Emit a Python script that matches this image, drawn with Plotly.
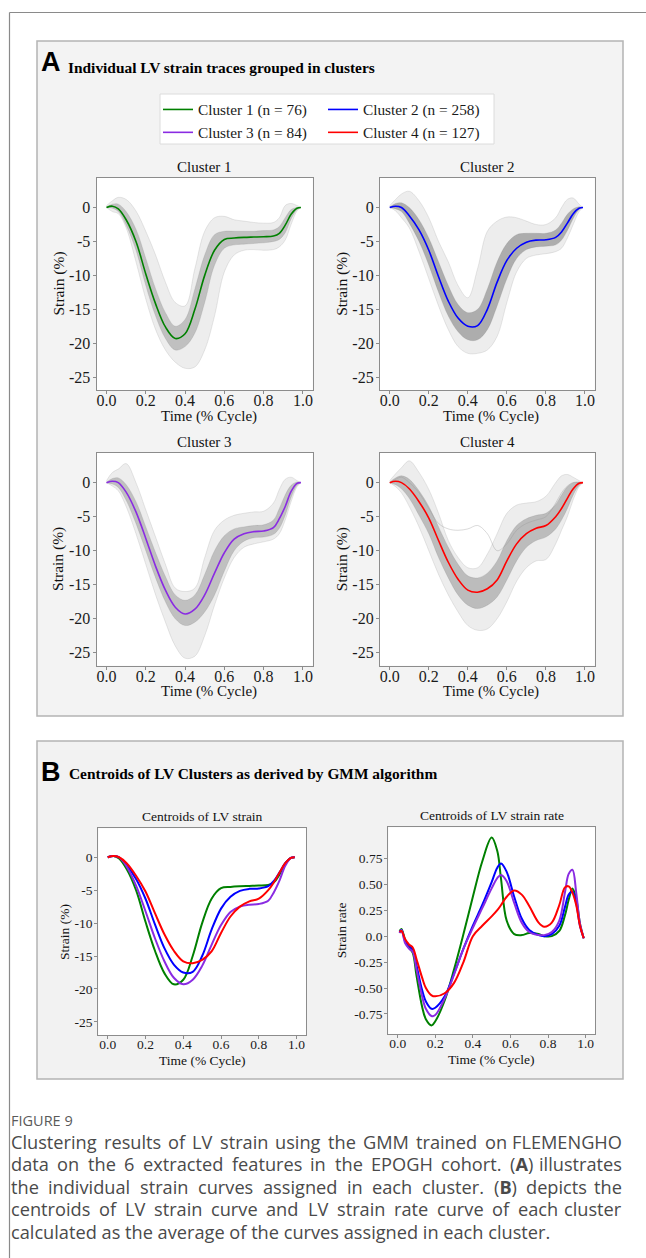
import re
import plotly.graph_objects as go

W, H = 646, 1258

# ---------------- data ----------------
time = [0, 0.03, 0.06, 0.1, 0.15, 0.2, 0.25, 0.3, 0.35, 0.4, 0.45, 0.5, 0.55,
        0.6, 0.65, 0.7, 0.75, 0.8, 0.85, 0.88, 0.91, 0.94, 0.97, 0.99]

cluster_names = ["Cluster 1 (n = 76)", "Cluster 2 (n = 258)", "Cluster 3 (n = 84)", "Cluster 4 (n = 127)"]
panel_titles = ["Cluster 1", "Cluster 2", "Cluster 3", "Cluster 4"]

# centroid strain curves (%)
c1_centroid = [0, 0.2, -0.2, -1.8, -5.0, -9.8, -14.2, -17.6, -19.3, -18.6, -15.0, -10.0, -6.3,
               -4.7, -4.5, -4.4, -4.35, -4.3, -4.2, -3.8, -2.6, -1.0, -0.1, 0]
c2_centroid = [0, 0.2, 0.0, -1.2, -3.3, -6.3, -10.2, -13.8, -16.3, -17.5, -17.4, -15.0, -11.0,
               -7.8, -6.0, -5.1, -4.8, -4.75, -4.4, -3.6, -2.3, -0.9, -0.1, 0]
c3_centroid = [0, 0.2, 0.0, -1.4, -4.3, -8.2, -12.3, -15.8, -18.3, -19.3, -18.6, -16.5, -13.3,
               -10.3, -8.3, -7.5, -7.2, -7.1, -6.6, -5.3, -3.5, -1.3, -0.1, 0]
c4_centroid = [0, 0.2, 0.0, -0.9, -2.8, -5.2, -8.5, -11.7, -14.2, -15.8, -16.1, -15.6, -14.3,
               -11.5, -9.0, -7.5, -6.7, -6.3, -5.0, -3.8, -2.3, -0.9, -0.1, 0]

# spread of the individual traces: outer (all traces) and inner (dense core) bounds
c1_outer_low = [0, -0.6, -0.9, -3.0, -8.0, -13.5, -18.0, -21.0, -22.8, -23.7, -23.5, -21.0, -16.0,
                -9.5, -7.0, -6.3, -6.2, -6.3, -6.2, -5.8, -4.8, -2.5, -0.5, 0]
c1_outer_high = [0.3, 1.0, 1.5, 1.2, -0.5, -3.5, -7.0, -11.0, -14.0, -14.5, -9.0, -3.5, -1.5,
                 -1.3, -1.8, -2.0, -2.2, -2.3, -2.2, -1.5, 0.3, 0.6, 0.3, 0]
c1_inner_low = [0, -0.1, -0.6, -2.6, -6.3, -11.5, -16.0, -19.3, -21.0, -20.5, -18.5, -14.0, -8.5,
                -6.0, -5.5, -5.4, -5.3, -5.2, -5.0, -4.7, -3.7, -1.7, -0.3, 0]
c1_inner_high = [0.1, 0.5, 0.5, -0.6, -3.2, -7.5, -12.0, -15.5, -17.5, -16.5, -12.0, -7.0, -4.0,
                 -3.5, -3.5, -3.5, -3.5, -3.4, -3.3, -2.8, -1.5, -0.3, 0, 0]

c2_outer_low = [0, -0.5, -1.5, -3.0, -6.5, -10.5, -14.5, -18.0, -20.5, -21.5, -21.5, -21.0, -19.0,
                -14.0, -9.5, -7.5, -7.0, -6.8, -6.5, -6.0, -4.5, -2.5, -0.6, 0]
c2_outer_high = [0.3, 1.2, 2.0, 2.4, 1.0, -1.5, -5.0, -8.0, -11.5, -13.3, -9.0, -3.5, -2.0,
                 -1.4, -1.5, -2.0, -2.5, -2.5, -1.5, 0.0, 1.2, 1.4, 0.5, 0]
c2_inner_low = [0, -0.2, -0.6, -2.3, -5.0, -8.5, -12.5, -16.0, -18.3, -19.5, -19.5, -18.0, -14.5,
                -10.5, -7.5, -6.2, -5.8, -5.7, -5.5, -4.8, -3.4, -1.6, -0.3, 0]
c2_inner_high = [0.1, 0.6, 0.7, 0.0, -1.8, -4.5, -8.0, -11.5, -14.3, -15.5, -15.0, -12.0, -8.0,
                 -5.3, -4.0, -3.8, -3.8, -3.8, -3.3, -2.3, -1.0, -0.2, 0.1, 0]

c3_outer_low = [0, -0.5, -1.2, -3.5, -7.5, -12.0, -16.5, -20.5, -24.0, -25.8, -25.5, -22.5, -18.0,
                -14.0, -11.0, -9.5, -9.0, -8.7, -8.3, -7.5, -5.5, -2.8, -0.6, 0]
c3_outer_high = [0.3, 1.5, 2.0, 2.8, 0.0, -4.0, -8.0, -12.0, -15.5, -16.0, -15.5, -11.0, -7.0,
                 -5.5, -4.8, -4.5, -4.3, -4.2, -3.0, -1.0, 0.5, 0.8, 0.3, 0]
c3_inner_low = [0, -0.2, -0.7, -2.6, -6.0, -10.0, -14.0, -17.5, -20.0, -21.0, -20.5, -19.0, -16.5,
                -13.0, -10.0, -8.6, -8.1, -8.0, -7.6, -6.7, -4.8, -2.2, -0.4, 0]
c3_inner_high = [0.1, 0.6, 0.7, -0.3, -2.8, -6.5, -10.3, -13.8, -16.5, -17.3, -16.5, -13.5, -10.0,
                 -7.8, -6.8, -6.5, -6.3, -6.2, -5.5, -3.8, -1.8, -0.4, 0.1, 0]

c4_outer_low = [0, -0.6, -1.5, -3.5, -6.5, -10.0, -13.5, -16.5, -19.0, -21.0, -21.7, -21.5, -20.0,
                -17.5, -14.5, -12.5, -11.5, -11.3, -9.0, -7.0, -5.0, -2.5, -0.6, 0]
c4_outer_high = [0.3, 1.3, 2.2, 3.2, 1.5, -1.0, -4.5, -8.5, -11.0, -12.5, -12.5, -10.5, -7.5,
                 -4.5, -3.3, -3.0, -2.8, -2.0, 0.0, 1.0, 1.2, 0.8, 0.3, 0]
c4_inner_low = [0, -0.3, -0.9, -2.3, -4.8, -7.5, -11.0, -14.0, -16.5, -18.0, -18.5, -18.0, -16.8,
                -14.3, -11.5, -9.5, -8.5, -8.0, -6.8, -5.5, -3.8, -1.8, -0.4, 0]
c4_inner_high = [0.1, 0.7, 1.0, 0.5, -1.2, -3.5, -6.5, -9.5, -12.0, -13.7, -14.0, -13.3, -11.5,
                 -8.5, -6.3, -5.3, -4.8, -4.5, -3.2, -1.8, -0.6, 0.0, 0.1, 0]
c4_outlier = [0, 0.5, 0.8, 0.0, -1.5, -3.8, -6.0, -6.8, -7.0, -6.8, -6.3, -7.5, -10.0,
              -9.0, -7.0, -6.0, -5.5, -5.0, -3.0, -1.5, -0.5, 0.0, 0.0, 0]

# centroid strain-rate curves
sr_time = [0.01, 0.02, 0.04, 0.06, 0.08, 0.1, 0.13, 0.15, 0.18, 0.2, 0.25, 0.3, 0.35, 0.4, 0.45,
           0.5, 0.53, 0.55, 0.58, 0.62, 0.66, 0.7, 0.75, 0.78, 0.82, 0.86, 0.89, 0.91, 0.93,
           0.95, 0.97, 0.99]
c1_rate = [0.05, 0.07, -0.04, -0.11, -0.16, -0.38, -0.68, -0.80, -0.86, -0.82, -0.62, -0.32, 0.02,
           0.38, 0.72, 0.95, 0.82, 0.55, 0.15, 0.02, 0.01, 0.03, 0.02, 0.0, 0.0, 0.05, 0.2, 0.35,
           0.46, 0.36, 0.12, -0.02]
c2_rate = [0.04, 0.06, -0.05, -0.09, -0.13, -0.28, -0.52, -0.63, -0.70, -0.69, -0.58, -0.36, -0.12,
           0.10, 0.30, 0.52, 0.66, 0.70, 0.62, 0.38, 0.17, 0.06, 0.01, 0.0, 0.02, 0.1, 0.28, 0.40,
           0.43, 0.32, 0.1, -0.02]
c3_rate = [0.03, 0.06, -0.07, -0.12, -0.15, -0.32, -0.58, -0.70, -0.77, -0.76, -0.60, -0.37, -0.12,
           0.08, 0.27, 0.46, 0.56, 0.59, 0.53, 0.32, 0.13, 0.04, 0.01, 0.01, 0.04, 0.15, 0.42, 0.60,
           0.64, 0.42, 0.12, -0.02]
c4_rate = [0.04, 0.05, -0.03, -0.08, -0.11, -0.22, -0.40, -0.50, -0.57, -0.58, -0.55, -0.45, -0.25,
           0.0, 0.10, 0.19, 0.25, 0.30, 0.38, 0.44, 0.40, 0.29, 0.13, 0.09, 0.13, 0.30, 0.47, 0.48,
           0.42, 0.30, 0.10, -0.02]

x_tickvals = [0, 0.2, 0.4, 0.6, 0.8, 1.0]
x_ticktext = ["0.0", "0.2", "0.4", "0.6", "0.8", "1.0"]
strain_tickvals = [0, -5, -10, -15, -20, -25]
strain_ticktext = ["0", "-5", "-10", "-15", "-20", "-25"]
rate_tickvals = [0.75, 0.5, 0.25, 0, -0.25, -0.5, -0.75]
rate_ticktext = ["0.75", "0.50", "0.25", "0.0", "-0.25", "-0.50", "-0.75"]

caption_head = "FIGURE 9"
caption_lines = [
    "Clustering results of LV strain using the GMM trained on FLEMENGHO",
    "data on the 6 extracted features in the EPOGH cohort. (<b>A</b>) illustrates",
    "the individual strain curves assigned in each cluster. (<b>B</b>) depicts the",
    "centroids of LV strain curve and LV strain rate curve of each cluster",
    "calculated as the average of the curves assigned in each cluster.",
]

# ---------------- styles ----------------
colors = ["green", "blue", "blueviolet", "red"]
centroids = [c1_centroid, c2_centroid, c3_centroid, c4_centroid]
rates = [c1_rate, c2_rate, c3_rate, c4_rate]
bands = [
    (c1_outer_low, c1_outer_high, c1_inner_low, c1_inner_high),
    (c2_outer_low, c2_outer_high, c2_inner_low, c2_inner_high),
    (c3_outer_low, c3_outer_high, c3_inner_low, c3_inner_high),
    (c4_outer_low, c4_outer_high, c4_inner_low, c4_inner_high),
]
inner_alpha = [0.36, 0.52, 0.36, 0.40]

SERIF = "Liberation Serif, Times New Roman, serif"
SANS = "Liberation Sans, Arial, sans-serif"
CAP = "Open Sans, Noto Sans, sans-serif"
FRAME = "#8c8c8c"

# approximate advance widths (em) of the caption font, for justifying caption lines
EM = {" ": .26, "a": .556, "b": .613, "c": .476, "d": .613, "e": .561, "f": .339, "g": .548,
      "h": .614, "i": .253, "j": .253, "k": .525, "l": .253, "m": .930, "n": .614, "o": .604,
      "p": .613, "q": .613, "r": .408, "s": .477, "t": .353, "u": .614, "v": .501, "w": .778,
      "x": .524, "y": .502, "z": .477, "A": .633, "B": .648, "C": .631, "D": .729, "E": .556,
      "F": .516, "G": .728, "H": .738, "I": .279, "L": .519, "M": .903, "N": .760, "O": .781,
      "P": .598, "S": .549, "V": .606, ".": .266, "(": .297, ")": .297}


def text_w(s, size):
    s = re.sub(r"<[^>]+>", "", s)
    return sum(EM.get(ch, .572) for ch in s) * size


def px(xp):
    return xp / W


def py(yp):
    return 1 - yp / H


# plot rectangles in pixels: (left, right, top, bottom)
A_BOX = [(96.7, 312.7, 177.7, 390.0), (380.0, 594.7, 177.7, 390.0),
         (96.7, 312.7, 452.7, 665.7), (380.0, 594.7, 452.7, 665.7)]
B_BOX = [(98.3, 306.0, 828.3, 1035.0), (388.3, 595.0, 827.3, 1034.0)]

fig = go.Figure()
layout_axes = {}
annotations = []
shapes = []

# panel backgrounds & outer frame
shapes.append(dict(type="line", xref="paper", yref="paper", x0=px(9.5), x1=1.0, y0=py(12.5), y1=py(12.5),
                   line=dict(color="#8a8a8a", width=1.2), layer="below"))
shapes.append(dict(type="line", xref="paper", yref="paper", x0=px(9.5), x1=px(9.5), y0=py(12.5), y1=0,
                   line=dict(color="#8a8a8a", width=1.2), layer="below"))
shapes.append(dict(type="rect", xref="paper", yref="paper", x0=px(37), x1=px(623), y0=py(716), y1=py(41),
                   fillcolor="#f3f3f3", line=dict(color="#b4b4b4", width=1.5), layer="below"))
shapes.append(dict(type="rect", xref="paper", yref="paper", x0=px(37), x1=px(623), y0=py(1079), y1=py(741),
                   fillcolor="#f2f2f2", line=dict(color="#b4b4b4", width=1.5), layer="below"))
# legend box
shapes.append(dict(type="rect", xref="paper", yref="paper", x0=px(160), x1=px(494), y0=py(144), y1=py(94),
                   fillcolor="white", line=dict(color="#dcdcdc", width=1), layer="below"))


def axis_pair(idx, box, yr, ytv, ytt, tickfont, xstand):
    l, r, t, b = box
    sfx = "" if idx == 1 else str(idx)
    xa = dict(domain=[px(l), px(r)], range=[-0.05, 1.05], tickvals=x_tickvals, ticktext=x_ticktext,
              showgrid=False, zeroline=False, showline=True, mirror=True, linecolor=FRAME, linewidth=1.3,
              ticks="outside", ticklen=3, tickcolor=FRAME, tickfont=tickfont, anchor="y" + sfx,
              ticklabelstandoff=xstand, fixedrange=True)
    ya = dict(domain=[py(b), py(t)], range=yr, tickvals=ytv, ticktext=ytt,
              showgrid=False, zeroline=False, showline=True, mirror=True, linecolor=FRAME, linewidth=1.3,
              ticks="outside", ticklen=3, tickcolor=FRAME, tickfont=tickfont, anchor="x" + sfx,
              ticklabelstandoff=-1, fixedrange=True)
    layout_axes["xaxis" + sfx] = xa
    layout_axes["yaxis" + sfx] = ya
    shapes.append(dict(type="rect", xref="x" + sfx + " domain", yref="y" + sfx + " domain",
                       x0=0, x1=1, y0=0, y1=1, fillcolor="white", line=dict(width=0), layer="below"))
    return "x" + sfx, "y" + sfx


tfA = dict(family=SERIF, size=16, color="#1a1a1a")
tfB = dict(family=SERIF, size=13.5, color="#1a1a1a")

# ---- Panel A: individual traces ----
for i in range(4):
    xr, yr_ = axis_pair(i + 1, A_BOX[i], [-26.9, 4.4], strain_tickvals, strain_ticktext, tfA, -7)
    olow, ohigh, ilow, ihigh = bands[i]
    common = dict(x=time, xaxis=xr, yaxis=yr_, mode="lines", showlegend=False, hoverinfo="skip")
    fig.add_trace(go.Scatter(y=olow, line=dict(color="rgba(150,150,150,0.35)", width=0.6, shape="spline"), **common))
    fig.add_trace(go.Scatter(y=ohigh, fill="tonexty", fillcolor="rgba(165,165,165,0.2)",
                             line=dict(color="rgba(150,150,150,0.35)", width=0.6, shape="spline"), **common))
    fig.add_trace(go.Scatter(y=ilow, line=dict(color="rgba(120,120,120,0.3)", width=0.6, shape="spline"), **common))
    fig.add_trace(go.Scatter(y=ihigh, fill="tonexty", fillcolor="rgba(115,115,115,%.2f)" % inner_alpha[i],
                             line=dict(color="rgba(120,120,120,0.3)", width=0.6, shape="spline"), **common))
    if i == 3:
        fig.add_trace(go.Scatter(y=c4_outlier, line=dict(color="rgba(150,150,150,0.45)", width=0.8, shape="spline"), **common))
    fig.add_trace(go.Scatter(x=time, y=centroids[i], xaxis=xr, yaxis=yr_, mode="lines", name=cluster_names[i],
                             line=dict(color=colors[i], width=1.6, shape="spline"),
                             legend="legend" if i in (0, 2) else "legend2", legendgroup="g%d" % i))
    l, r, t, b = A_BOX[i]
    cx = (l + r) / 2
    annotations.append(dict(text=panel_titles[i], x=px(cx), y=py(t - 10.5), xref="paper", yref="paper",
                            showarrow=False, font=dict(family=SERIF, size=15, color="#111"), xanchor="center", yanchor="middle"))
    annotations.append(dict(text="Time (% Cycle)", x=px(cx + 4), y=py(b + 26), xref="paper", yref="paper",
                            showarrow=False, font=dict(family=SERIF, size=15, color="#111"), xanchor="center", yanchor="middle"))
    annotations.append(dict(text="Strain (%)", x=px(l - 38), y=py((t + b) / 2), xref="paper", yref="paper", textangle=-90,
                            showarrow=False, font=dict(family=SERIF, size=15.5, color="#111"), xanchor="center", yanchor="middle"))

# ---- Panel B: centroids ----
xb1, yb1 = axis_pair(5, B_BOX[0], [-27.0, 4.4], strain_tickvals, strain_ticktext, tfB, -6)
xb2, yb2 = axis_pair(6, B_BOX[1], [-0.943, 1.049], rate_tickvals, rate_ticktext, tfB, -6)
for i in range(4):
    fig.add_trace(go.Scatter(x=time, y=centroids[i], xaxis=xb1, yaxis=yb1, mode="lines", showlegend=False,
                             line=dict(color=colors[i], width=2, shape="spline")))
for i in range(4):
    fig.add_trace(go.Scatter(x=sr_time, y=rates[i], xaxis=xb2, yaxis=yb2, mode="lines", showlegend=False,
                             line=dict(color=colors[i], width=2, shape="spline")))

for (l, r, t, b), ttl, ylab, yoff in zip(B_BOX, ["Centroids of LV strain", "Centroids of LV strain rate"],
                                           ["Strain (%)", "Strain rate"], [34, 46.6]):
    cx = (l + r) / 2
    annotations.append(dict(text=ttl, x=px(cx), y=py(t - 11.5), xref="paper", yref="paper", showarrow=False,
                            font=dict(family=SERIF, size=13.5, color="#111"), xanchor="center", yanchor="middle"))
    annotations.append(dict(text="Time (% Cycle)", x=px(cx), y=py(b + 25), xref="paper", yref="paper", showarrow=False,
                            font=dict(family=SERIF, size=13.5, color="#111"), xanchor="center", yanchor="middle"))
    annotations.append(dict(text=ylab, x=px(l - yoff), y=py((t + b) / 2), xref="paper", yref="paper", textangle=-90,
                            showarrow=False, font=dict(family=SERIF, size=13.5, color="#111"), xanchor="center", yanchor="middle"))

# panel headings
annotations.append(dict(text="<b>A</b>", x=px(39), y=py(62), xref="paper", yref="paper", showarrow=False,
                        font=dict(family=SANS, size=27, color="black"), xanchor="left", yanchor="middle"))
annotations.append(dict(text="<b>Individual LV strain traces grouped in clusters</b>", x=px(66), y=py(67.5),
                        xref="paper", yref="paper", showarrow=False, font=dict(family=SERIF, size=15.4, color="black"),
                        xanchor="left", yanchor="middle"))
annotations.append(dict(text="<b>B</b>", x=px(39), y=py(771.5), xref="paper", yref="paper", showarrow=False,
                        font=dict(family=SANS, size=27, color="black"), xanchor="left", yanchor="middle"))
annotations.append(dict(text="<b>Centroids of LV Clusters as derived by GMM algorithm</b>", x=px(67), y=py(773.5),
                        xref="paper", yref="paper", showarrow=False, font=dict(family=SERIF, size=15.4, color="black"),
                        xanchor="left", yanchor="middle"))

# caption
CAP_SIZE = 18.2
annotations.append(dict(text=caption_head, x=px(9), y=py(1120), xref="paper", yref="paper", showarrow=False,
                        font=dict(family=CAP, size=14.5, color="#5a5a5a"), xanchor="left", yanchor="middle"))
LEFT, RIGHT = 10.0, 623.0
for k, line in enumerate(caption_lines):
    ycap = py(1141.5 + k * 22.6)
    cfont = dict(family=CAP, size=CAP_SIZE, color="#4a4a4a")
    if k == len(caption_lines) - 1:
        annotations.append(dict(text=line, x=px(LEFT - 1), y=ycap, xref="paper", yref="paper", showarrow=False,
                                font=cfont, xanchor="left", yanchor="middle"))
        continue
    words = line.split(" ")
    widths = [text_w(wd, CAP_SIZE) for wd in words]
    gap = (RIGHT - LEFT - sum(widths)) / (len(words) - 1)
    xcur = LEFT
    for j, wd in enumerate(words):
        if j == len(words) - 1:
            annotations.append(dict(text=wd, x=px(RIGHT + 1), y=ycap, xref="paper", yref="paper", showarrow=False,
                                    font=cfont, xanchor="right", yanchor="middle"))
        else:
            annotations.append(dict(text=wd, x=px(xcur - 1), y=ycap, xref="paper", yref="paper", showarrow=False,
                                    font=cfont, xanchor="left", yanchor="middle"))
        xcur += widths[j] + gap

legend_common = dict(bgcolor="rgba(0,0,0,0)", borderwidth=0, orientation="v", tracegroupgap=0,
                     font=dict(family=SERIF, size=15.3, color="#1a1a1a"), xanchor="left", yanchor="top",
                     itemclick=False, itemdoubleclick=False)

fig.update_layout(
    width=W, height=H, autosize=False,
    margin=dict(l=0, r=0, t=0, b=0),
    paper_bgcolor="white", plot_bgcolor="white",
    showlegend=True,
    legend=dict(x=px(158), y=py(93), **legend_common),
    legend2=dict(x=px(323), y=py(93), **legend_common),
    annotations=annotations,
    shapes=shapes,
    **layout_axes,
)

fig.write_html("out.html")
